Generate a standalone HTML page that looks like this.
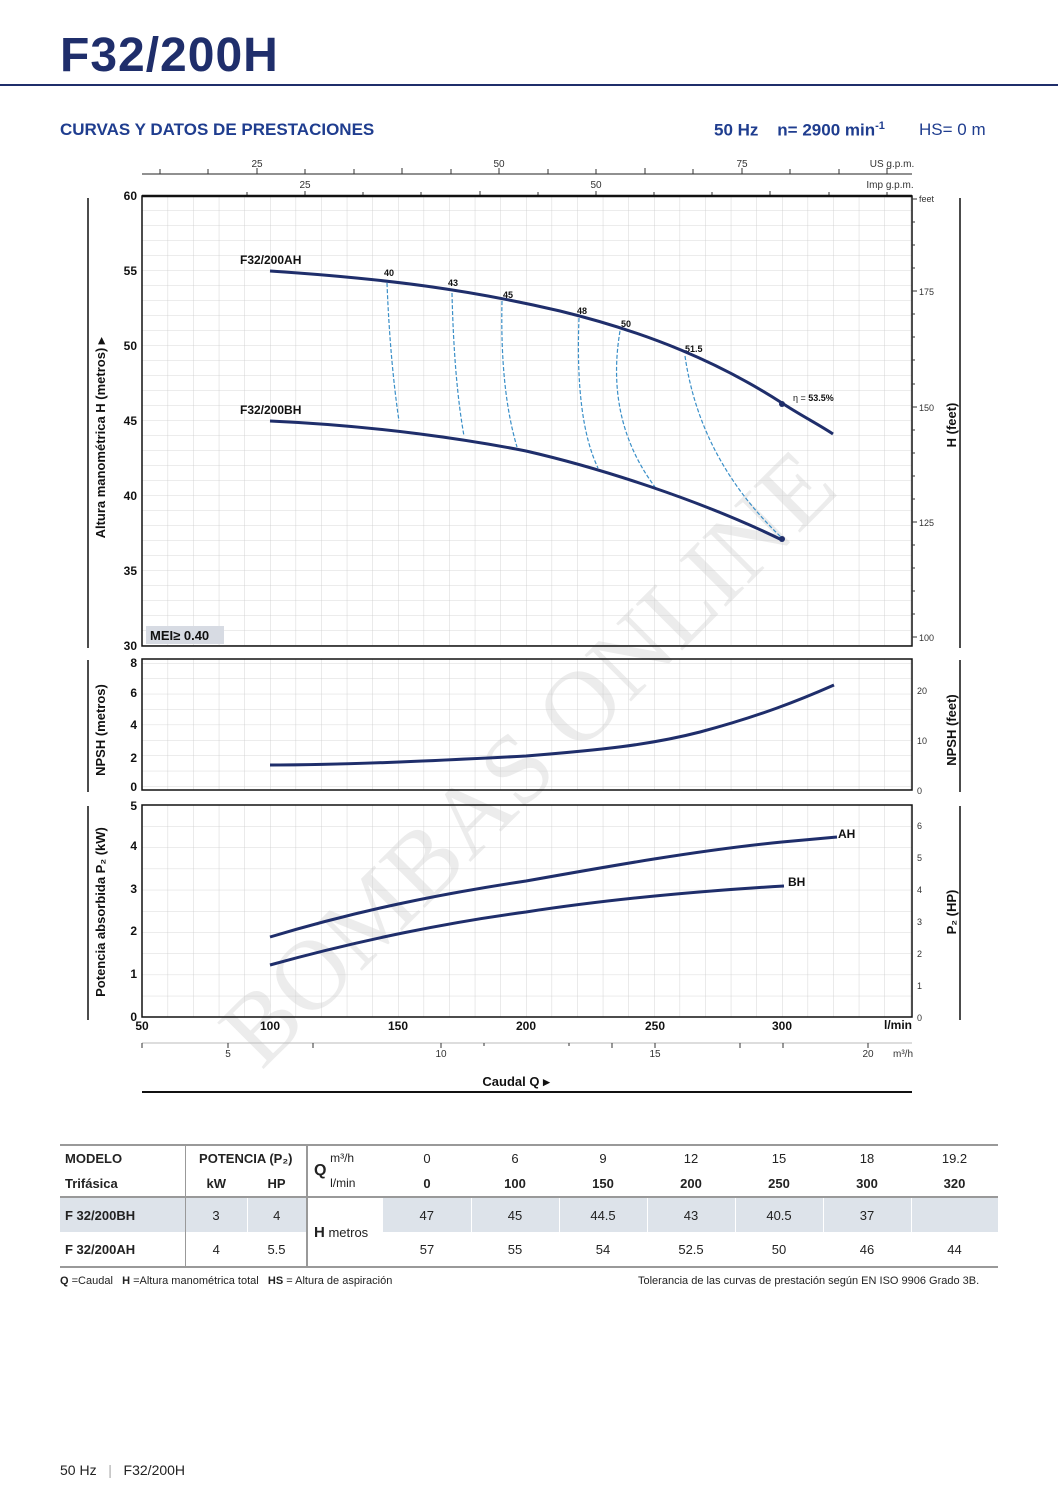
<!DOCTYPE html>
<html><head><meta charset="utf-8"><style>
body{margin:0;background:#fff;width:1058px;height:1497px;position:relative;font-family:"Liberation Sans",sans-serif;overflow:hidden}
.t{position:absolute;white-space:nowrap}
table{border-collapse:collapse;position:absolute;left:60px;top:1144px;width:938px;font-size:13px;color:#222;table-layout:fixed}
td{height:25px;text-align:center;padding:0}
</style></head><body>
<div class="t" style="left:60px;top:28px;font-size:48px;font-weight:bold;color:#1f2e6b;letter-spacing:1px">F32/200H</div>
<div style="position:absolute;left:0;top:84px;width:1058px;height:2px;background:#1f2e6b"></div>
<div class="t" style="left:60px;top:120px;font-size:17px;font-weight:bold;color:#1f3d8f">CURVAS Y DATOS DE PRESTACIONES</div>
<div class="t" style="left:714px;top:120px;font-size:17px;font-weight:bold;color:#1f3d8f">50 Hz&nbsp;&nbsp;&nbsp; n= 2900 min<sup style="font-size:11px">-1</sup></div>
<div class="t" style="left:919px;top:120px;font-size:17px;color:#1f3d8f">HS= 0 m</div>

<svg style="position:absolute;left:0;top:0" width="1058" height="1140" font-family="Liberation Sans, sans-serif">
<defs>
<pattern id="gv" x="142" y="0" width="25.6" height="15" patternUnits="userSpaceOnUse"><path d="M0 0V15M0 0H25.6" stroke="#ccc" stroke-width="0.8" fill="none"/></pattern>
<pattern id="gn" x="142" y="663" width="25.6" height="15.4" patternUnits="userSpaceOnUse"><path d="M0 0V15.4M0 0H25.6" stroke="#ccc" stroke-width="0.8" fill="none"/></pattern>
<pattern id="gp" x="142" y="805" width="25.6" height="21.2" patternUnits="userSpaceOnUse"><path d="M0 0V21.2M0 0H25.6" stroke="#ccc" stroke-width="0.8" fill="none"/></pattern>
</defs>
<text x="530" y="790" transform="rotate(-45 530 760)" text-anchor="middle" font-family="Liberation Serif, serif" font-size="100" fill="#ececec">BOMBAS ONLINE</text>

<line x1="142" y1="174" x2="912" y2="174" stroke="#222" stroke-width="1"/>
<g font-size="10" fill="#333" text-anchor="middle">
<text x="257" y="167">25</text><text x="499" y="167">50</text><text x="742" y="167">75</text><text x="892" y="167">US g.p.m.</text>
<text x="305" y="188">25</text><text x="596" y="188">50</text><text x="890" y="188">Imp g.p.m.</text>
</g>
<g stroke="#333"><path d="M160 174v-5M208 174v-5M257 174v-6M305 174v-5M354 174v-5M402 174v-6M451 174v-5M499 174v-6M548 174v-5M596 174v-5M645 174v-6M693 174v-5M742 174v-6M790 174v-5M839 174v-5M887 174v-6"/>
<path d="M247 196v-4M305 196v-5M363 196v-4M421 196v-4M480 196v-5M538 196v-4M596 196v-5M654 196v-4M712 196v-4M770 196v-5M829 196v-4M887 196v-4"/></g>

<rect x="142" y="196" width="770" height="450" fill="url(#gv)"/>
<rect x="142" y="196" width="770" height="450" fill="none" stroke="#111" stroke-width="1.5"/>
<line x1="142" y1="196" x2="912" y2="196" stroke="#111" stroke-width="2.5"/>
<g font-size="12" font-weight="bold" text-anchor="end" fill="#111">
<text x="137" y="200">60</text><text x="137" y="275">55</text><text x="137" y="350">50</text><text x="137" y="425">45</text><text x="137" y="500">40</text><text x="137" y="575">35</text><text x="137" y="650">30</text></g>
<g font-size="9" fill="#333"><text x="919" y="202">feet</text><text x="919" y="295">175</text><text x="919" y="411">150</text><text x="919" y="526">125</text><text x="919" y="641">100</text></g>
<g stroke="#333"><path d="M912 199h5M912 291h5M912 407h5M912 522h5M912 637h5M912 222h3M912 245h3M912 268h3M912 314h3M912 337h3M912 360h3M912 384h3M912 430h3M912 453h3M912 476h3M912 499h3M912 545h3M912 568h3M912 591h3M912 614h3"/></g>
<rect x="146" y="626" width="78" height="18" fill="#d7dbe3"/>
<text x="150" y="640" font-size="13" font-weight="bold" fill="#111">MEI≥ 0.40</text>
<line x1="88" y1="198" x2="88" y2="648" stroke="#111" stroke-width="1.5"/>
<line x1="960" y1="198" x2="960" y2="648" stroke="#111" stroke-width="1.5"/>
<text transform="translate(105 438) rotate(-90)" font-size="13" font-weight="bold" text-anchor="middle" fill="#111">Altura manométrica H (metros) ▸</text>
<text transform="translate(956 425) rotate(-90)" font-size="13" font-weight="bold" text-anchor="middle" fill="#111">H (feet)</text>

<g stroke="#3a8fc8" stroke-width="1.2" fill="none" stroke-dasharray="4,2">
<path d="M387 283Q390 360 399 421"/><path d="M452 293Q454 380 464 436"/><path d="M502 301Q500 390 517 447"/>
<path d="M579 318Q575 420 598 468"/><path d="M620 331Q605 420 655 487"/><path d="M685 356Q700 460 782 538"/></g>
<g font-size="9" font-weight="bold" fill="#111"><text x="384" y="276">40</text><text x="448" y="286">43</text><text x="503" y="298">45</text><text x="577" y="314">48</text><text x="621" y="327">50</text><text x="685" y="352">51.5</text><text x="793" y="401" font-weight="normal">η = <tspan font-weight="bold">53.5%</tspan></text></g>
<g stroke="#1f2e6b" stroke-width="3" fill="none">
<path d="M270 271C390 279 470 290 560 311C650 333 720 363 782 403C800 415 818 424 833 434"/>
<path d="M270 421C380 426 470 440 526 451C600 468 700 500 782 540"/></g>
<circle cx="782" cy="404" r="3" fill="#1f2e6b"/><circle cx="782" cy="539" r="3" fill="#1f2e6b"/>
<g font-size="12" font-weight="bold" fill="#111"><text x="240" y="264">F32/200AH</text><text x="240" y="414">F32/200BH</text></g>

<rect x="142" y="659" width="770" height="131" fill="url(#gn)"/>
<rect x="142" y="659" width="770" height="131" fill="none" stroke="#111" stroke-width="1.5"/>
<g font-size="12" font-weight="bold" text-anchor="end" fill="#111"><text x="137" y="667">8</text><text x="137" y="697">6</text><text x="137" y="729">4</text><text x="137" y="762">2</text><text x="137" y="791">0</text></g>
<g font-size="9" fill="#333"><text x="917" y="694">20</text><text x="917" y="744">10</text><text x="917" y="794">0</text></g>
<line x1="88" y1="660" x2="88" y2="792" stroke="#111" stroke-width="1.5"/><line x1="960" y1="660" x2="960" y2="792" stroke="#111" stroke-width="1.5"/>
<text transform="translate(105 730) rotate(-90)" font-size="13" font-weight="bold" text-anchor="middle" fill="#111">NPSH (metros)</text>
<text transform="translate(956 730) rotate(-90)" font-size="13" font-weight="bold" text-anchor="middle" fill="#111">NPSH (feet)</text>
<path d="M270 765C350 765 450 760 526 756C600 750 650 745 700 732C760 716 800 700 834 685" stroke="#1f2e6b" stroke-width="3" fill="none"/>

<rect x="142" y="805" width="770" height="212" fill="url(#gp)"/>
<rect x="142" y="805" width="770" height="212" fill="none" stroke="#111" stroke-width="1.5"/>
<g font-size="12" font-weight="bold" text-anchor="end" fill="#111"><text x="137" y="810">5</text><text x="137" y="850">4</text><text x="137" y="893">3</text><text x="137" y="935">2</text><text x="137" y="978">1</text><text x="137" y="1021">0</text></g>
<g font-size="9" fill="#333"><text x="917" y="829">6</text><text x="917" y="861">5</text><text x="917" y="893">4</text><text x="917" y="925">3</text><text x="917" y="957">2</text><text x="917" y="989">1</text><text x="917" y="1021">0</text></g>
<line x1="88" y1="806" x2="88" y2="1020" stroke="#111" stroke-width="1.5"/><line x1="960" y1="806" x2="960" y2="1020" stroke="#111" stroke-width="1.5"/>
<text transform="translate(105 912) rotate(-90)" font-size="13" font-weight="bold" text-anchor="middle" fill="#111">Potencia absorbida P₂ (kW)</text>
<text transform="translate(956 912) rotate(-90)" font-size="13" font-weight="bold" text-anchor="middle" fill="#111">P₂ (HP)</text>
<g stroke="#1f2e6b" stroke-width="3" fill="none">
<path d="M270 937C360 910 440 894 526 881C610 866 700 850 782 842L837 837"/>
<path d="M270 965C360 940 450 922 526 912C610 899 700 891 784 886"/></g>
<g font-size="12" font-weight="bold" fill="#111"><text x="838" y="838">AH</text><text x="788" y="886">BH</text></g>
<g font-size="12" font-weight="bold" fill="#111" text-anchor="middle"><text x="142" y="1030">50</text><text x="270" y="1030">100</text><text x="398" y="1030">150</text><text x="526" y="1030">200</text><text x="655" y="1030">250</text><text x="782" y="1030">300</text><text x="898" y="1029">l/min</text></g>

<line x1="142" y1="1043" x2="912" y2="1043" stroke="#bbb"/>
<g stroke="#333"><path d="M142 1043v5M228 1043v5M313 1043v5M441 1043v5M612 1043v5M655 1043v5M740 1043v5M868 1043v5M783 1043v5M484 1043v3M569 1043v3"/></g>
<g font-size="10" fill="#333" text-anchor="middle"><text x="228" y="1057">5</text><text x="441" y="1057">10</text><text x="655" y="1057">15</text><text x="868" y="1057">20</text><text x="903" y="1057">m³/h</text></g>
<text x="516" y="1086" font-size="13" font-weight="bold" text-anchor="middle" fill="#111">Caudal Q ▸</text>
<line x1="142" y1="1092" x2="912" y2="1092" stroke="#111" stroke-width="2"/>
</svg>

<table>
<colgroup><col style="width:125px"><col style="width:62px"><col style="width:60px"><col style="width:76px"><col style="width:88px"><col style="width:88px"><col style="width:88px"><col style="width:88px"><col style="width:88px"><col style="width:88px"><col style="width:87px"></colgroup>
<tr style="border-top:2px solid #999"><td style="text-align:left;font-weight:bold;padding-left:5px">MODELO</td><td colspan="2" style="font-weight:bold;border-left:1px solid #999">POTENCIA (P₂)</td><td rowspan="2" style="border-left:2px solid #999;text-align:left;padding-left:6px"><span style="font-weight:bold;font-size:16px;vertical-align:middle">Q</span> <span style="display:inline-block;vertical-align:middle;text-align:left;font-size:12px;line-height:25px">m³/h<br>l/min</span></td><td>0</td><td>6</td><td>9</td><td>12</td><td>15</td><td>18</td><td>19.2</td></tr>
<tr style="border-bottom:2px solid #999;font-weight:bold"><td style="text-align:left;padding-left:5px">Trifásica</td><td style="border-left:1px solid #999">kW</td><td>HP</td><td>0</td><td>100</td><td>150</td><td>200</td><td>250</td><td>300</td><td>320</td></tr>
<tr style="height:35px"><td style="text-align:left;font-weight:bold;padding-left:5px;background:#dde3ea">F 32/200BH</td><td style="background:#dde3ea;border-left:1px solid #999">3</td><td style="background:#dde3ea;border-left:1px solid #fff">4</td><td rowspan="2" style="border-left:2px solid #999;text-align:left;padding-left:6px"><b style="font-size:15px">H</b> metros</td><td style="background:#dde3ea">47</td><td style="background:#dde3ea;border-left:1px solid #fff">45</td><td style="background:#dde3ea;border-left:1px solid #fff">44.5</td><td style="background:#dde3ea;border-left:1px solid #fff">43</td><td style="background:#dde3ea;border-left:1px solid #fff">40.5</td><td style="background:#dde3ea;border-left:1px solid #fff">37</td><td style="border-left:1px solid #fff;background:#dde3ea"></td></tr>
<tr style="height:35px;border-bottom:2px solid #999"><td style="text-align:left;font-weight:bold;padding-left:5px">F 32/200AH</td><td style="border-left:1px solid #999">4</td><td>5.5</td><td>57</td><td>55</td><td>54</td><td>52.5</td><td>50</td><td>46</td><td>44</td></tr>
</table>
<div class="t" style="left:60px;top:1275px;font-size:11px;color:#222"><b>Q</b> =Caudal &nbsp; <b>H</b> =Altura manométrica total &nbsp; <b>HS</b> = Altura de aspiración</div>
<div class="t" style="left:638px;top:1275px;font-size:11px;color:#222">Tolerancia de las curvas de prestación según EN ISO 9906 Grado 3B.</div>
<div class="t" style="left:60px;top:1462px;font-size:14px;color:#222">50 Hz &nbsp; <span style="color:#aaa">|</span> &nbsp; F32/200H</div>
</body></html>
